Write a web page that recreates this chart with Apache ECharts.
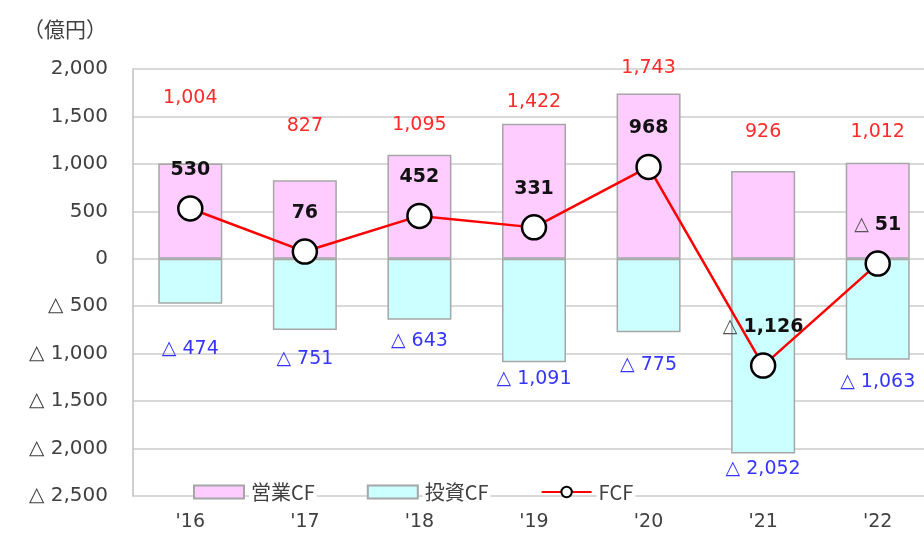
<!DOCTYPE html>
<html>
<head>
<meta charset="utf-8">
<script src="https://cdn.jsdelivr.net/npm/echarts@6/dist/echarts.min.js"></script>
<style>
  html, body { margin: 0; padding: 0; background: #fff; overflow: hidden; }
  /* wider than the window: the original's plot area runs past its right edge */
  #chart { width: 935px; height: 540px; }
</style>
</head>
<body>
<div id="chart"></div>
<script>
// ── Data ──────────────────────────────────────────────
const years = ["'16", "'17", "'18", "'19", "'20", "'21", "'22"]
const operatingCF = [1004, 827, 1095, 1422, 1743, 926, 1012]
const investingCF = [-474, -751, -643, -1091, -775, -2052, -1063]
const freeCF = [530, 76, 452, 331, 968, -1126, -51]
const yTicks = { min: -2500, max: 2000, step: 500 }

// label gaps (px) to mimic the hand-placed labels of the original
const opLabelGap = [56, 45, 20, 12, 16, 29, 21]
const invLabelGap = [36, 20, 12, 7, 23, 6, 13]

const FONT = '"DejaVu Sans", Verdana, sans-serif'
const CJK = '"Noto Sans CJK JP", "DejaVu Sans", sans-serif'

// 1,234 / △ 1,234
function fmt(v) {
  const s = Math.abs(v).toLocaleString('en-US')
  return v < 0 ? '△ ' + s : s
}

const chart = echarts.init(document.getElementById('chart'), null, { renderer: 'canvas' })

chart.setOption({
  backgroundColor: '#fff',
  animation: false,
  title: {
    text: '（億円）',
    left: 18, top: 14,
    textStyle: { fontFamily: CJK, fontSize: 21, fontWeight: 'normal', color: '#404040' },
  },
  grid: { left: 133, right: 0, top: 69, bottom: 44, containLabel: false },
  legend: {
    left: 188, bottom: 33,
    itemWidth: 50, itemHeight: 13, itemGap: 50,
    textStyle: {
      fontFamily: CJK, fontSize: 20, color: '#404040',
      backgroundColor: '#fff', padding: [0, 2],
    },
    data: [
      { name: '営業CF', icon: 'rect' },
      { name: '投資CF', icon: 'rect' },
      { name: 'FCF' },
    ],
  },
  xAxis: {
    type: 'category',
    data: years,
    axisLine: { show: false },
    axisTick: { show: false },
    axisLabel: { fontFamily: FONT, fontSize: 19, color: '#404040', margin: 17 },
  },
  yAxis: {
    type: 'value',
    min: yTicks.min, max: yTicks.max, interval: yTicks.step,
    axisLine: { show: true, lineStyle: { color: '#bfbfbf', width: 1.5 } },
    axisTick: { show: false },
    axisLabel: { fontFamily: FONT, fontSize: 20, color: '#404040', margin: 25, formatter: fmt },
    splitLine: { lineStyle: { color: '#d9d9d9', width: 2 } },
  },
  series: [
    {
      name: '営業CF', type: 'bar', stack: 'cf', barWidth: 64,
      itemStyle: { color: '#ffccff', borderColor: '#a6a6a6', borderWidth: 1.5 },
      data: operatingCF.map((v, i) => ({
        value: v,
        label: { distance: opLabelGap[i] },
      })),
      label: {
        show: true, position: 'top',
        fontFamily: FONT, fontSize: 19, color: '#ff2a2a',
        formatter: p => fmt(p.value),
      },
    },
    {
      name: '投資CF', type: 'bar', stack: 'cf', barWidth: 64,
      itemStyle: { color: '#ccffff', borderColor: '#a6a6a6', borderWidth: 1.5 },
      data: investingCF.map((v, i) => ({
        value: v,
        label: { distance: invLabelGap[i] },
      })),
      label: {
        show: true, position: 'bottom',
        fontFamily: FONT, fontSize: 19, color: '#3535ff',
        formatter: p => fmt(p.value),
      },
    },
    {
      name: 'FCF', type: 'line', z: 5,
      data: freeCF,
      symbol: 'circle', symbolSize: 24,
      lineStyle: { color: '#ff0000', width: 2.5 },
      itemStyle: { color: '#fff', borderColor: '#000', borderWidth: 2.5 },
      label: {
        show: true, position: 'top', distance: 16,
        fontFamily: FONT, fontSize: 19, fontWeight: 'bold', color: '#111',
        formatter: p => p.value < 0
          ? '{tri|△ }' + Math.abs(p.value).toLocaleString('en-US')
          : fmt(p.value),
        rich: { tri: { fontFamily: FONT, fontSize: 19, color: '#555', fontWeight: 'normal' } },
      },
    },
  ],
})
</script>
</body>
</html>
